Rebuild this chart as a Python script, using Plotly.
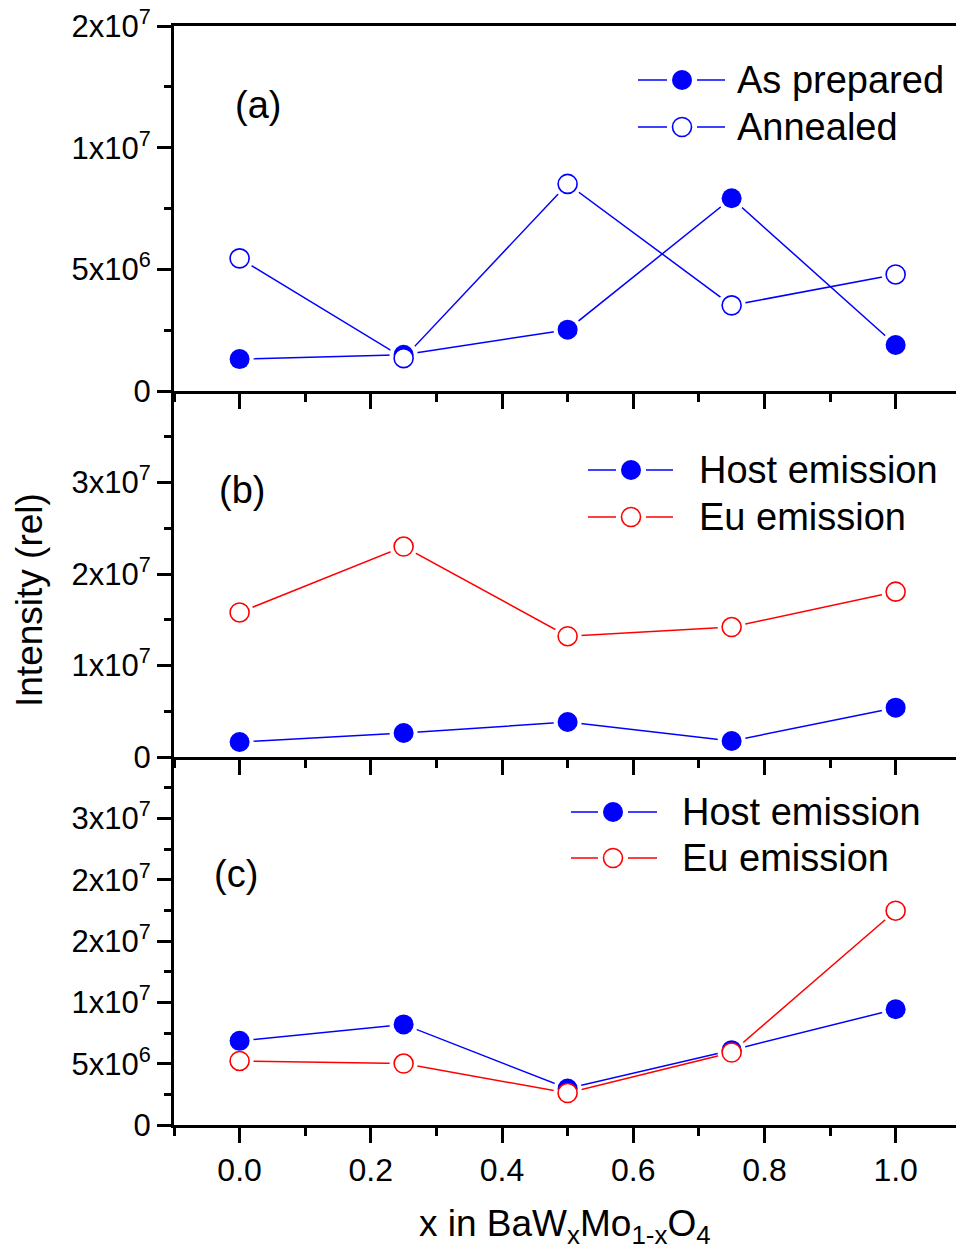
import plotly.graph_objects as go

# ---------------- data ----------------
x_vals = [0.0, 0.25, 0.5, 0.75, 1.0]

a_as_prepared = [1.31e6, 1.49e6, 2.52e6, 7.92e6, 1.89e6]
a_annealed = [5.45e6, 1.35e6, 8.51e6, 3.52e6, 4.79e6]

b_host = [1.64e6, 2.62e6, 3.82e6, 1.75e6, 5.39e6]
b_eu = [15.8e6, 23.0e6, 13.2e6, 14.2e6, 18.07e6]

c_host = [6.86e6, 8.2e6, 2.97e6, 6.1e6, 9.44e6]
c_eu = [5.22e6, 5.01e6, 2.61e6, 5.91e6, 17.47e6]

x_tickvals = [0.0, 0.2, 0.4, 0.6, 0.8, 1.0]
a_tickvals = [0, 5e6, 1e7, 1.5e7]
a_ticktext = ["0", "5x10<sup>6</sup>", "1x10<sup>7</sup>", "2x10<sup>7</sup>"]
b_tickvals = [0, 1e7, 2e7, 3e7]
b_ticktext = ["0", "1x10<sup>7</sup>", "2x10<sup>7</sup>", "3x10<sup>7</sup>"]
c_tickvals = [0, 5e6, 1e7, 1.5e7, 2e7, 2.5e7]
c_ticktext = ["0", "5x10<sup>6</sup>", "1x10<sup>7</sup>", "2x10<sup>7</sup>",
              "2x10<sup>7</sup>", "3x10<sup>7</sup>"]

legend_a = ["As prepared", "Annealed"]
legend_bc = ["Host emission", "Eu emission"]

# ---------------- layout geometry ----------------
W, H = 956, 1251
L, R, T, B = 174, 0, 26, 126
FONT = "Liberation Sans, Arial, sans-serif"
BLUE = "#0000FF"
RED = "#FF0000"
MS = 20      # marker size
HALO = 28    # white gap around markers


def px(xp):
    return (xp - L) / (W - L - R)


def py(yp):
    return (H - B - yp) / (H - T - B)


fig = go.Figure()

panels = [
    ("x", "y", [(a_as_prepared, BLUE, True), (a_annealed, BLUE, False)]),
    ("x2", "y2", [(b_host, BLUE, True), (b_eu, RED, False)]),
    ("x3", "y3", [(c_host, BLUE, True), (c_eu, RED, False)]),
]

for xa, ya, series in panels:
    # lines
    for yv, col, filled in series:
        fig.add_trace(go.Scatter(x=x_vals, y=yv, mode="lines", xaxis=xa, yaxis=ya,
                                 line=dict(color=col, width=1.5), showlegend=False,
                                 hoverinfo="skip"))
    # white halos (gap between line and marker)
    for yv, col, filled in series:
        fig.add_trace(go.Scatter(x=x_vals, y=yv, mode="markers", xaxis=xa, yaxis=ya,
                                 marker=dict(size=HALO, color="white", line=dict(width=0)),
                                 showlegend=False, hoverinfo="skip"))
    # markers
    for yv, col, filled in series:
        if filled:
            mk = dict(size=MS, color=col, line=dict(width=0))
        else:
            mk = dict(size=MS - 1, color="white", line=dict(color=col, width=1.6))
        fig.add_trace(go.Scatter(x=x_vals, y=yv, mode="markers", xaxis=xa, yaxis=ya,
                                 marker=mk, showlegend=False))

xcommon = dict(range=[-0.1, 1.092], showline=True, linewidth=3, linecolor="black",
               ticks="outside", ticklen=15, tickwidth=3, tickcolor="black",
               tickmode="array", tickvals=x_tickvals, tickformat=".1f",
               showgrid=False, zeroline=False,
               tickfont=dict(family=FONT, size=32, color="black"),
               minor=dict(ticks="outside", ticklen=8, tickwidth=3, tickcolor="black",
                          dtick=0.1, tick0=0, showgrid=False))
ycommon = dict(showline=True, linewidth=3, linecolor="black",
               ticks="outside", ticklen=14, tickwidth=3, tickcolor="black",
               tickmode="array", showgrid=False, zeroline=False,
               tickfont=dict(family=FONT, size=31, color="black"))

dom_a = [py(391), 1.0]
dom_b = [py(757), py(391)]
dom_c = [0.0, py(757)]

fig.update_layout(
    width=W, height=H,
    margin=dict(l=L, r=R, t=T, b=B),
    paper_bgcolor="white", plot_bgcolor="white",
    font=dict(family=FONT, color="black"),
    xaxis=dict(**xcommon, anchor="y", showticklabels=False, mirror=True),
    xaxis2=dict(**xcommon, anchor="y2", showticklabels=False, matches="x"),
    xaxis3=dict(**xcommon, anchor="y3", matches="x"),
    yaxis=dict(**ycommon, domain=dom_a, anchor="x", range=[0, 1.5e7],
               tickvals=a_tickvals, ticktext=a_ticktext,
               minor=dict(ticks="outside", ticklen=7, tickwidth=3, tickcolor="black",
                          dtick=2.5e6, tick0=0, showgrid=False)),
    yaxis2=dict(**ycommon, domain=dom_b, anchor="x2", range=[0, 4e7],
                tickvals=b_tickvals, ticktext=b_ticktext,
                minor=dict(ticks="outside", ticklen=7, tickwidth=3, tickcolor="black",
                           dtick=5e6, tick0=0, showgrid=False)),
    yaxis3=dict(**ycommon, domain=dom_c, anchor="x3", range=[0, 3e7],
                tickvals=c_tickvals, ticktext=c_ticktext,
                minor=dict(ticks="outside", ticklen=7, tickwidth=3, tickcolor="black",
                           dtick=2.5e6, tick0=0, showgrid=False)),
    showlegend=False,
)

annotations = []
shapes = []

# axis titles
annotations.append(dict(text="Intensity (rel)", x=px(29), y=py(600), xref="paper", yref="paper",
                        textangle=-90, showarrow=False, xanchor="center", yanchor="middle",
                        font=dict(family=FONT, size=37, color="black")))
annotations.append(dict(text="x in BaW<sub>x</sub>Mo<sub>1-x</sub>O<sub>4</sub>",
                        x=px(565), y=py(1226), xref="paper", yref="paper",
                        showarrow=False, xanchor="center", yanchor="middle",
                        font=dict(family=FONT, size=37, color="black")))

# panel labels
for lab, cx, cy in [("(a)", 258, 105), ("(b)", 242, 490), ("(c)", 236, 874)]:
    annotations.append(dict(text=lab, x=px(cx), y=py(cy), xref="paper", yref="paper",
                            showarrow=False, xanchor="center", yanchor="middle",
                            font=dict(family=FONT, size=38, color="black")))

# manual legends: (labels, colours, line x0, marker x, line x1, text x, row ys)
legends = [
    (legend_a, [BLUE, BLUE], 638, 682, 725, 735, [80, 127]),
    (legend_bc, [BLUE, RED], 588, 631, 673, 697, [470, 517]),
    (legend_bc, [BLUE, RED], 571, 613, 657, 680, [812, 858]),
]
for labels, cols, lx0, mx, lx1, tx, ys in legends:
    for i, (lab, col, yy) in enumerate(zip(labels, cols, ys)):
        filled = (i == 0)
        for sx0, sx1 in [(lx0, mx - 15), (mx + 15, lx1)]:
            shapes.append(dict(type="line", xref="paper", yref="paper",
                               x0=px(sx0), x1=px(sx1), y0=py(yy), y1=py(yy),
                               line=dict(color=col, width=1.5)))
        if filled:
            shapes.append(dict(type="circle", xref="paper", yref="paper",
                               xsizemode="pixel", ysizemode="pixel",
                               xanchor=px(mx), yanchor=py(yy),
                               x0=-10, x1=10, y0=-10, y1=10,
                               fillcolor=col, line=dict(width=0)))
        else:
            shapes.append(dict(type="circle", xref="paper", yref="paper",
                               xsizemode="pixel", ysizemode="pixel",
                               xanchor=px(mx), yanchor=py(yy),
                               x0=-9.5, x1=9.5, y0=-9.5, y1=9.5,
                               fillcolor="white", line=dict(color=col, width=1.6)))
        annotations.append(dict(text=lab, x=px(tx), y=py(yy), xref="paper", yref="paper",
                                showarrow=False, xanchor="left", yanchor="middle",
                                font=dict(family=FONT, size=38, color="black")))

fig.update_layout(annotations=annotations, shapes=shapes)

fig.write_html("out.html")
